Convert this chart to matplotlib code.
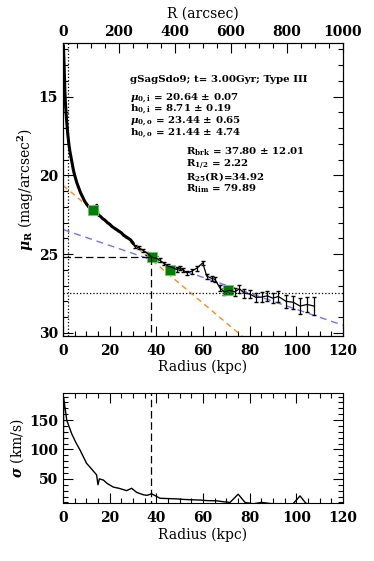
import numpy as np
import matplotlib
matplotlib.use("Agg")
import matplotlib.pyplot as plt
from matplotlib.ticker import MultipleLocator

plt.rcParams['font.family'] = ['DejaVu Serif']
plt.rcParams['font.weight'] = 'bold'
plt.rcParams['mathtext.fontset'] = 'dejavuserif'

# surface brightness profile (kpc, mag/arcsec^2)
r_in = [0.2, 0.4, 0.6, 0.8, 1.0, 1.3, 1.6, 2.0, 2.5, 3.0, 3.5, 4.0, 4.5, 5.0,
        5.5, 6.0, 6.5, 7.0, 7.5, 8.0, 8.5, 9.0, 9.5, 10.0, 10.5, 11.0, 11.5,
        12.0, 12.5, 13.0, 14.0, 14.5, 15.0, 16.0, 17.0, 18.0, 19.0, 20.0,
        21.0, 22.0, 23.0, 24.0, 25.0, 26.0, 27.0, 28.0, 29.0, 30.0]
mu_in = [11.8, 12.6, 13.6, 14.6, 15.3, 16.0, 16.6, 17.3, 18.0, 18.5, 18.9,
         19.3, 19.7, 20.0, 20.25, 20.5, 20.7, 20.9, 21.1, 21.25, 21.4, 21.55,
         21.7, 21.8, 21.9, 22.0, 22.1, 22.2, 22.25, 22.3, 22.3, 21.9, 22.5,
         22.6, 22.75, 22.85, 23.0, 23.1, 23.25, 23.35, 23.45, 23.55, 23.65,
         23.8, 23.9, 24.0, 24.1, 24.3]
r_out = [30.9, 32.5, 34.4, 36.2, 38.0, 39.8, 41.6, 43.4, 45.1, 46.9, 48.7,
         50.1, 51.5, 53.0, 55.1, 57.3, 59.9, 61.6, 63.7, 65.1, 67.3, 69.1,
         71.3, 73.7, 75.6, 77.7, 80.1, 82.7, 85.1, 87.6, 89.9, 92.3, 95.6,
         98.7, 101.6, 104.7, 107.6]
mu_out = [24.5, 24.6, 24.77, 24.95, 25.2, 25.25, 25.4, 25.6, 25.77, 25.85,
          25.98, 25.9, 26.0, 26.19, 26.1, 25.9, 25.56, 26.4, 26.54, 26.6,
          27.16, 27.4, 27.3, 27.4, 27.2, 27.48, 27.54, 27.75, 27.73, 27.65,
          27.8, 27.69, 28.0, 28.06, 28.3, 28.2, 28.3]
err_out = [0.1, 0.1, 0.1, 0.1, 0.1, 0.12, 0.12, 0.12, 0.12, 0.12, 0.13,
           0.13, 0.13, 0.14, 0.14, 0.15, 0.15, 0.16, 0.16, 0.17, 0.2, 0.22,
           0.22, 0.25, 0.25, 0.28, 0.28, 0.3, 0.3, 0.3, 0.32, 0.33, 0.4,
           0.42, 0.5, 0.5, 0.55]

# fit parameters
mu0_i, h_i = 20.64, 8.71
mu0_o, h_o = 23.44, 21.44
r_brk, mu_brk = 37.80, 25.2
r_half = 2.22
mu_lim = 27.45

# break/fit points (green squares)
r_sq = [12.9, 38.0, 45.9, 70.8]
mu_sq = [22.2, 25.2, 26.0, 27.3]

# velocity dispersion profile
r_sig = [0.0, 0.3, 1.6, 3.7, 5.5, 7.3, 10.1, 12.0, 14.4, 15.0, 15.6, 17.3,
         19.0, 21.6, 24.0, 27.3, 29.4, 31.6, 34.4, 36.0, 38.0, 41.6, 45.0,
         48.7, 52.0, 55.0, 58.7, 62.0, 65.9, 69.0, 71.6, 75.1, 78.0, 81.6,
         85.1, 88.0, 91.4, 95.0, 98.0, 101.6, 104.0, 105.9, 108.0]
sig = [10.0, 188.0, 150.0, 127.0, 112.0, 99.0, 76.5, 68.0, 56.8, 40.0, 50.0,
       48.0, 42.0, 36.0, 34.0, 30.0, 34.0, 27.0, 23.0, 22.0, 24.6, 17.0,
       16.5, 16.0, 15.0, 14.5, 14.0, 13.0, 12.7, 11.0, 10.0, 24.0, 10.0, 7.6,
       10.0, 8.5, 7.0, 6.0, 5.0, 21.0, 9.0, 6.0, 5.0]

orange = (1.0, 0.55, 0.1)
blue = (0.45, 0.45, 1.0)

fig = plt.figure(figsize=(3.74, 5.61), dpi=100)
ax = fig.add_axes([0.1684, 0.4011, 0.7486, 0.5223])
ax2 = fig.add_axes([0.1684, 0.1034, 0.7486, 0.1961])

xx = np.array([0.0, 120.0])
ax.plot(xx, mu0_i + 1.0857 * xx / h_i, ls=(0, (4, 3)), color=orange, lw=1.0)
ax.plot(xx, mu0_o + 1.0857 * xx / h_o, ls=(0, (5, 3.5)), color=blue, lw=1.0)

ax.plot(r_in, mu_in, color='k', lw=2.2)
ax.errorbar(r_out, mu_out, yerr=err_out, color='k', lw=0.9, capsize=1.5,
            elinewidth=0.9)
ax.plot([r_in[-1], r_out[0]], [mu_in[-1], mu_out[0]], color='k', lw=1.2)
ax.plot(r_sq, mu_sq, ls='none', marker='s', ms=7, color='green',
        mec=(0.4, 0.8, 0.4), mew=0.6)

ax.axvline(r_half, color='k', ls=':', lw=0.9)
ax.axhline(mu_lim, color='k', ls=':', lw=0.9)
ax.plot([0, r_brk], [mu_brk, mu_brk], color='k', ls=(0, (6, 3)), lw=0.9)
ax.plot([r_brk, r_brk], [mu_brk, 31], color='k', ls=(0, (6, 3)), lw=0.9)

ax.set_xlim(0, 120)
ax.set_ylim(30.2, 11.6)
ax.xaxis.set_major_locator(MultipleLocator(20))
ax.xaxis.set_minor_locator(MultipleLocator(5))
ax.yaxis.set_major_locator(MultipleLocator(5))
ax.yaxis.set_minor_locator(MultipleLocator(1))
ax.tick_params(which='both', direction='in', right=True, labelsize=10)
ax.tick_params(axis='x', pad=6)
ax.tick_params(which='major', length=7, width=0.8)
ax.tick_params(which='minor', length=3.5, width=0.8)
ax.set_xlabel('Radius (kpc)', fontsize=10, labelpad=1)
ax.set_ylabel(r'$\mu_{\mathbf{R}}$ (mag/arcsec$^{\mathbf{2}}$)', fontsize=10,
              labelpad=2)

top = ax.twiny()
top.set_xlim(0, 1000)
top.xaxis.set_major_locator(MultipleLocator(200))
top.xaxis.set_minor_locator(MultipleLocator(50))
top.tick_params(which='both', direction='in', labelsize=10, pad=3)
top.tick_params(which='major', length=7, width=0.8)
top.tick_params(which='minor', length=3.5, width=0.8)
top.set_xlabel('R (arcsec)', fontsize=10, labelpad=5)

fs = 7.4
ax.text(0.24, 0.875, 'gSagSdo9; t= 3.00Gyr; Type III', transform=ax.transAxes,
        fontsize=fs, va='center')
lines_a = [r'$\mu_{\mathbf{0,i}}$ = 20.64 $\pm$ 0.07',
           r'h$_{\mathbf{0,i}}$ = 8.71 $\pm$ 0.19',
           r'$\mu_{\mathbf{0,o}}$ = 23.44 $\pm$ 0.65',
           r'h$_{\mathbf{0,o}}$ = 21.44 $\pm$ 4.74']
for i, s in enumerate(lines_a):
    ax.text(0.24, 0.812 - i * 0.04, s, transform=ax.transAxes, fontsize=fs,
            va='center')
lines_b = [r'R$_{\mathbf{brk}}$ = 37.80 $\pm$ 12.01',
           r'R$_{\mathbf{1/2}}$ = 2.22',
           r'R$_{\mathbf{25}}$(R)=34.92',
           r'R$_{\mathbf{lim}}$ = 79.89']
for i, s in enumerate(lines_b):
    ax.text(0.44, 0.628 - i * 0.042, s, transform=ax.transAxes, fontsize=fs,
            va='center')

ax2.plot(r_sig, sig, color='k', lw=1.0)
ax2.plot([r_brk, r_brk], [0, 200], color='k', ls=(0, (6, 3)), lw=0.9)
ax2.set_xlim(0, 120)
ax2.set_ylim(9, 196)
ax2.xaxis.set_major_locator(MultipleLocator(20))
ax2.xaxis.set_minor_locator(MultipleLocator(5))
ax2.yaxis.set_major_locator(MultipleLocator(50))
ax2.yaxis.set_minor_locator(MultipleLocator(10))
ax2.tick_params(which='both', direction='in', right=True, top=True,
                labelsize=10)
ax2.tick_params(axis='x', pad=6)
ax2.tick_params(which='major', length=7, width=0.8)
ax2.tick_params(which='minor', length=3.5, width=0.8)
ax2.set_xlabel('Radius (kpc)', fontsize=10, labelpad=2)
ax2.set_ylabel(r'$\sigma$ (km/s)', fontsize=10, labelpad=2)

fig.savefig('out.png', dpi=100)
